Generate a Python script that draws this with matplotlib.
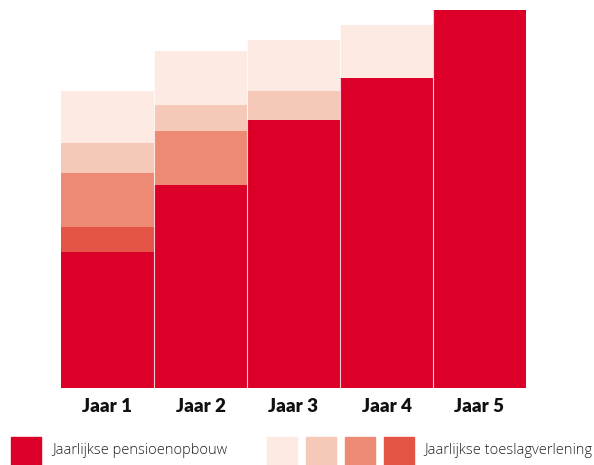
import numpy as np
import matplotlib.pyplot as plt
from matplotlib.patches import Rectangle

# Data (heights)
years = ["Jaar 1", "Jaar 2", "Jaar 3", "Jaar 4", "Jaar 5"]
opbouw = [136, 203, 268, 310, 378]
toeslag_1 = [25, 0, 0, 0, 0]
toeslag_2 = [54, 54, 0, 0, 0]
toeslag_3 = [30, 26, 29, 0, 0]
toeslag_4 = [52, 54, 51, 53, 0]

red = "#DC0028"
shades = ["#E35447", "#ED8A74", "#F6C8B8", "#FCEAE3"]

fig = plt.figure(figsize=(5.94, 4.65), dpi=100)
W, H = 594, 465
ax = fig.add_axes([61 / W, 1 - 388 / H, (526 - 61) / W, (388 - 10) / H])

x = np.arange(len(years))
ax.bar(x, opbouw, width=1, color=red, linewidth=0)
bottom = np.array(opbouw, dtype=float)
for vals, c in zip([toeslag_1, toeslag_2, toeslag_3, toeslag_4], shades):
    ax.bar(x, vals, width=1, bottom=bottom, color=c, linewidth=0)
    bottom += vals

# thin white separators between the bars
for i in range(len(years) - 1):
    ax.plot([i + 0.5, i + 0.5], [0, max(bottom[i], bottom[i + 1])],
            color="white", lw=0.8, alpha=0.8)

ax.set_xlim(-0.5, 4.5)
ax.set_ylim(0, 378)
for s in ax.spines.values():
    s.set_visible(False)
ax.set_yticks([])
ax.set_xticks(x)
ax.set_xticklabels(years, fontfamily="Lato", fontweight="heavy", fontsize=13.5, color="#111111")
ax.tick_params(axis="x", length=0, pad=7)

# legend
def square(px, py, c):
    fig.patches.append(Rectangle((px / W, 1 - (py + 28) / H), 30 / W, 28 / H,
                                 transform=fig.transFigure, color=c, zorder=3))

square(11, 437, red)
fig.text(52 / W, 1 - 450 / H, "Jaarlijkse pensioenopbouw", fontfamily="Open Sans",
         fontweight="light", fontsize=10.5, va="center", color="#222222")
for px, c in zip([267, 306, 345, 384], shades[::-1]):
    square(px, 437, c)
fig.text(424 / W, 1 - 450 / H, "Jaarlijkse toeslagverlening", fontfamily="Open Sans",
         fontweight="light", fontsize=10.5, va="center", color="#222222")

fig.savefig("out.png", dpi=100)
